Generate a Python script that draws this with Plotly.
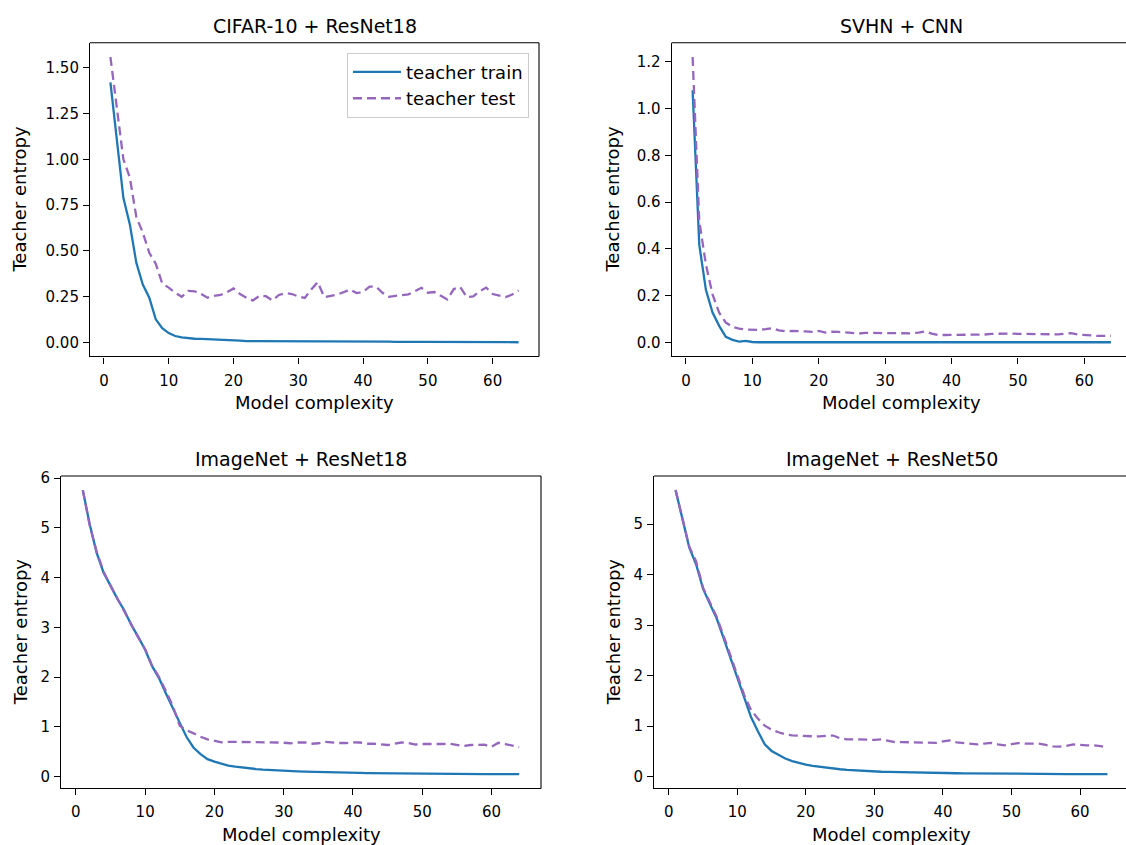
import plotly.graph_objects as go

# ---------------- data ----------------
complexity = list(range(1, 65))

cifar_train = [1.42, 1.11, 0.79, 0.645, 0.435, 0.317, 0.245, 0.127, 0.078, 0.052,
               0.036, 0.028, 0.023, 0.021, 0.020, 0.019, 0.017, 0.014, 0.012, 0.012,
               0.011, 0.008, 0.008, 0.008, 0.007, 0.009, 0.008, 0.007, 0.006, 0.006,
               0.006, 0.007, 0.006, 0.005, 0.005, 0.005, 0.005, 0.005, 0.006, 0.006,
               0.006, 0.007, 0.005, 0.005, 0.004, 0.005, 0.004, 0.004, 0.004, 0.004,
               0.005, 0.004, 0.004, 0.005, 0.005, 0.005, 0.004, 0.004, 0.004, 0.005,
               0.005, 0.003, 0.002, 0.002]
cifar_test = [1.558, 1.28, 1.00, 0.90, 0.685, 0.60, 0.49, 0.43, 0.322, 0.30,
              0.272, 0.25, 0.282, 0.28, 0.265, 0.245, 0.255, 0.26, 0.275, 0.295,
              0.265, 0.245, 0.23, 0.255, 0.253, 0.23, 0.26, 0.27, 0.265, 0.252,
              0.244, 0.29, 0.33, 0.248, 0.253, 0.262, 0.275, 0.29, 0.27, 0.277,
              0.305, 0.305, 0.272, 0.25, 0.255, 0.26, 0.263, 0.28, 0.299, 0.272,
              0.276, 0.255, 0.235, 0.292, 0.303, 0.248, 0.252, 0.28, 0.30, 0.265,
              0.255, 0.248, 0.262, 0.284]

svhn_train = [1.078, 0.418, 0.225, 0.128, 0.071, 0.024, 0.011, 0.004, 0.007, 0.002,
              0.001, 0.001, 0.001, 0.001, 0.001, 0.002, 0.001, 0.001, 0.001, 0.001,
              0.001, 0.001, 0.001, 0.001, 0.001, 0.001, 0.001, 0.001, 0.001, 0.001,
              0.001, 0.001, 0.001, 0.001, 0.001, 0.001, 0.001, 0.001, 0.001, 0.001,
              0.001, 0.001, 0.001, 0.001, 0.001, 0.001, 0.001, 0.001, 0.001, 0.001,
              0.001, 0.001, 0.001, 0.001, 0.001, 0.001, 0.001, 0.001, 0.001, 0.001,
              0.001, 0.001, 0.001, 0.001]
svhn_test = [1.22, 0.52, 0.333, 0.205, 0.127, 0.085, 0.067, 0.059, 0.055, 0.054,
             0.054, 0.057, 0.061, 0.052, 0.048, 0.049, 0.049, 0.047, 0.045, 0.049,
             0.042, 0.046, 0.045, 0.042, 0.041, 0.038, 0.041, 0.041, 0.038, 0.038,
             0.038, 0.038, 0.038, 0.039, 0.042, 0.047, 0.038, 0.032, 0.032, 0.032,
             0.032, 0.032, 0.032, 0.032, 0.034, 0.037, 0.038, 0.038, 0.038, 0.037,
             0.036, 0.035, 0.035, 0.035, 0.035, 0.035, 0.036, 0.040, 0.034, 0.031,
             0.028, 0.028, 0.028, 0.028]

r18_train = [5.76, 5.07, 4.50, 4.10, 3.84, 3.57, 3.34, 3.05, 2.81, 2.55,
             2.22, 1.98, 1.67, 1.39, 1.08, 0.79, 0.58, 0.45, 0.35, 0.30,
             0.26, 0.22, 0.20, 0.18, 0.165, 0.152, 0.14, 0.13, 0.122, 0.115,
             0.11, 0.105, 0.10, 0.095, 0.09, 0.087, 0.084, 0.081, 0.078, 0.075,
             0.073, 0.071, 0.069, 0.067, 0.065, 0.064, 0.062, 0.061, 0.059, 0.058,
             0.057, 0.056, 0.055, 0.054, 0.053, 0.052, 0.052, 0.051, 0.051, 0.050,
             0.050, 0.049, 0.049, 0.048]
r18_test = [5.76, 5.05, 4.52, 4.12, 3.84, 3.59, 3.33, 3.06, 2.80, 2.56,
            2.23, 2.00, 1.72, 1.42, 1.02, 0.93, 0.87, 0.80, 0.75, 0.72,
            0.69, 0.70, 0.70, 0.70, 0.70, 0.70, 0.69, 0.69, 0.685, 0.68,
            0.67, 0.685, 0.69, 0.66, 0.67, 0.70, 0.685, 0.675, 0.675, 0.69,
            0.685, 0.66, 0.66, 0.645, 0.635, 0.66, 0.685, 0.675, 0.645, 0.655,
            0.65, 0.645, 0.655, 0.66, 0.635, 0.615, 0.635, 0.645, 0.64, 0.60,
            0.68, 0.655, 0.625, 0.59]

r50_train = [5.67, 5.07, 4.53, 4.20, 3.72, 3.42, 3.13, 2.74, 2.35, 1.96,
             1.55, 1.18, 0.90, 0.64, 0.51, 0.43, 0.36, 0.31, 0.27, 0.24,
             0.215, 0.195, 0.175, 0.16, 0.148, 0.137, 0.127, 0.118, 0.11, 0.104,
             0.099, 0.095, 0.091, 0.088, 0.085, 0.082, 0.079, 0.077, 0.075, 0.073,
             0.071, 0.069, 0.068, 0.066, 0.065, 0.063, 0.062, 0.061, 0.059, 0.058,
             0.057, 0.057, 0.056, 0.055, 0.054, 0.054, 0.053, 0.053, 0.052, 0.052,
             0.051, 0.051, 0.050, 0.050]
r50_test = [5.67, 5.09, 4.55, 4.26, 3.74, 3.45, 3.16, 2.79, 2.40, 2.02,
            1.62, 1.32, 1.15, 1.01, 0.93, 0.88, 0.84, 0.82, 0.81, 0.80,
            0.80, 0.80, 0.80, 0.815, 0.76, 0.74, 0.74, 0.735, 0.73, 0.73,
            0.74, 0.71, 0.685, 0.685, 0.685, 0.685, 0.685, 0.68, 0.67, 0.70,
            0.72, 0.68, 0.665, 0.655, 0.64, 0.655, 0.67, 0.64, 0.62, 0.645,
            0.665, 0.655, 0.653, 0.653, 0.63, 0.60, 0.595, 0.61, 0.64, 0.625,
            0.62, 0.62, 0.605, 0.575]

titles = ["CIFAR-10 + ResNet18", "SVHN + CNN", "ImageNet + ResNet18", "ImageNet + ResNet50"]
x_label = "Model complexity"
y_label = "Teacher entropy"
series_names = ["teacher train", "teacher test"]

y_ticks = [[0, 0.25, 0.5, 0.75, 1.0, 1.25, 1.5],
           [0, 0.2, 0.4, 0.6, 0.8, 1.0, 1.2],
           [0, 1, 2, 3, 4, 5, 6],
           [0, 1, 2, 3, 4, 5]]
y_fmt = [".2f", ".1f", "d", "d"]
x_ticks = [0, 10, 20, 30, 40, 50, 60]

# ---------------- layout ----------------
W, H = 1126, 845
def X(p): return p / W
def Y(p): return 1 - p / H

# pixel boxes: left, right(visible), top, bottom, full right (for title centering)
boxes = [(90, 539, 37, 353, 539),
         (671.7, 1126, 37, 353, 1132),
         (61, 541, 473.3, 788, 541),
         (654, 1126, 473.3, 788, 1129)]
# visible x-range right limits (panels on the right are cut by the image edge)
x_hi = [67.15, 66.27, 67.15, 66.7]

C_TRAIN = "#1f77b4"
C_TEST = "#9467bd"
FONT = "DejaVu Sans"

data_sets = [(cifar_train, cifar_test), (svhn_train, svhn_test),
             (r18_train, r18_test), (r50_train, r50_test)]

fig = go.Figure()
layout = dict(width=W, height=H, margin=dict(l=0, r=0, t=0, b=0),
              paper_bgcolor="white", plot_bgcolor="white",
              font=dict(family=FONT, color="black", size=15),
              annotations=[], shapes=[])

for i, (tr, te) in enumerate(data_sets):
    n = "" if i == 0 else str(i + 1)
    xa, ya = "x" + n, "y" + n
    fig.add_trace(go.Scatter(x=complexity, y=tr, mode="lines", name=series_names[0],
                             line=dict(color=C_TRAIN, width=2.3),
                             xaxis=xa, yaxis=ya, showlegend=(i == 0)))
    fig.add_trace(go.Scatter(x=complexity, y=te, mode="lines", name=series_names[1],
                             line=dict(color=C_TEST, width=2.3, dash="9px,5px"),
                             xaxis=xa, yaxis=ya, showlegend=(i == 0)))
    lo = min(min(tr), min(te)); hi = max(max(tr), max(te))
    pad = 0.05 * (hi - lo)
    l, r, t, b, rfull = boxes[i]
    axis_common = dict(showline=True, linecolor="black", linewidth=1.1, mirror=False,
                       ticks="outside", ticklen=6, tickwidth=1.1, tickcolor="black",
                       showgrid=False, zeroline=False,
                       tickfont=dict(family=FONT, size=15, color="black"))
    layout["xaxis" + n] = dict(axis_common, domain=[X(l), min(1.0, X(r))],
                               range=[1 - 0.05 * 63, x_hi[i]], anchor=ya,
                               tickvals=x_ticks, ticklabelstandoff=4)
    layout["yaxis" + n] = dict(axis_common, domain=[Y(b), Y(t)],
                               range=[lo - pad, hi + pad], anchor=xa,
                               tickvals=y_ticks[i], tickformat=y_fmt[i],
                               ticklabelstandoff=1)
    # top border
    layout["shapes"].append(dict(type="line", xref=xa + " domain", yref=ya + " domain",
                                 x0=0, x1=1, y0=1, y1=1,
                                 line=dict(color="black", width=1.1)))
    if r < W:
        layout["shapes"].append(dict(type="line", xref=xa + " domain", yref=ya + " domain",
                                     x0=1, x1=1, y0=0, y1=1,
                                     line=dict(color="black", width=1.1)))
    # title
    layout["annotations"].append(dict(text=titles[i], x=X((l + rfull) / 2), y=Y(t - 17),
                                      xref="paper", yref="paper", showarrow=False,
                                      xanchor="center", yanchor="middle",
                                      font=dict(family=FONT, size=19, color="black")))
    # x label
    layout["annotations"].append(dict(text=x_label, x=X((l + rfull) / 2), y=Y(b + 46),
                                      xref="paper", yref="paper", showarrow=False,
                                      xanchor="center", yanchor="middle",
                                      font=dict(family=FONT, size=18, color="black")))
    # y label
    ylx = 20 if i in (0, 2) else 613
    layout["annotations"].append(dict(text=y_label, x=X(ylx), y=Y((t + b) / 2),
                                      xref="paper", yref="paper", showarrow=False,
                                      textangle=-90, xanchor="center", yanchor="middle",
                                      font=dict(family=FONT, size=18, color="black")))

layout["legend"] = dict(x=X(529), y=Y(47), xanchor="right", yanchor="top",
                        bordercolor="#cccccc", borderwidth=1, bgcolor="white",
                        font=dict(family=FONT, size=18, color="black"),
                        itemwidth=48, tracegroupgap=0)
fig.update_layout(**layout)
fig.write_html("out.html", config={"displayModeBar": False},
               post_script="document.body.style.margin='0px';document.body.style.overflow='hidden';")
